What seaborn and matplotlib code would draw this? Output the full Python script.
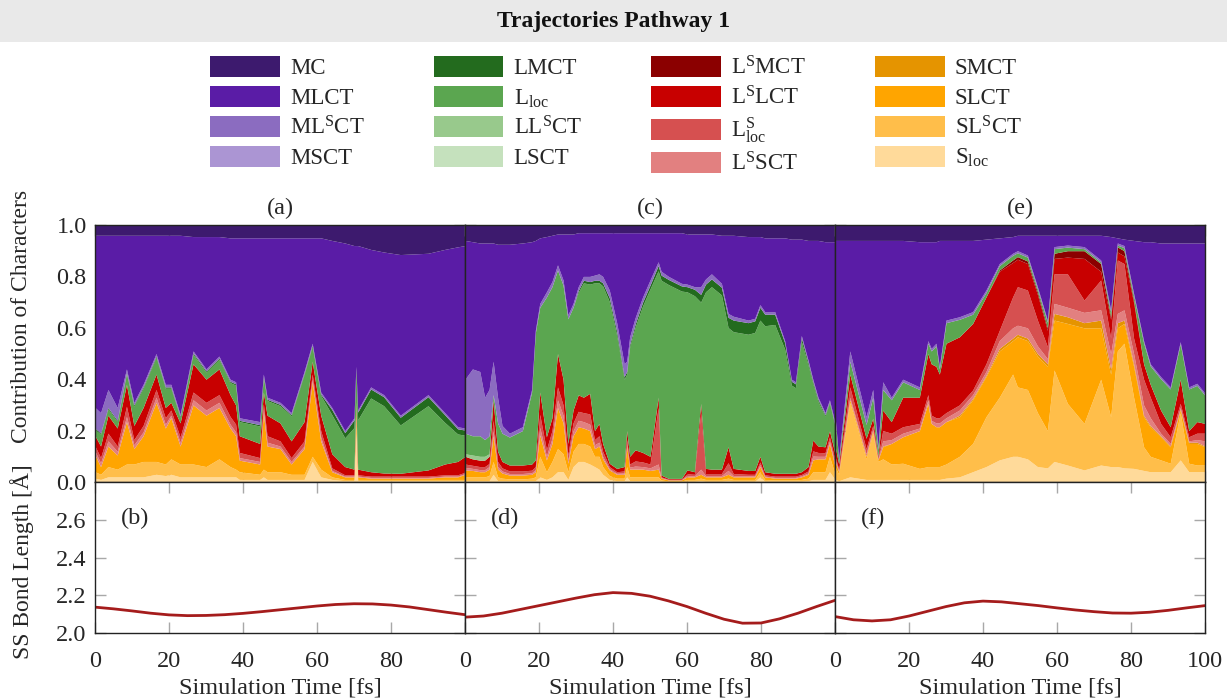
import numpy as np
import matplotlib
matplotlib.use("Agg")
import matplotlib.pyplot as plt
from matplotlib.patches import Patch, Rectangle
import seaborn as sns

# ---------------------------------------------------------------- characters
characters = ["MC", "MLCT", "MLSCT", "MSCT", "LMCT", "Lloc", "LLSCT", "LSCT",
              "LSMCT", "LSLCT", "LSloc", "LSSCT", "SMCT", "SLCT", "SLSCT", "Sloc"]
legend_labels = ["MC", "MLCT", r"ML$^{\mathregular{S}}$CT", "MSCT",
                 "LMCT", r"L$_{\mathregular{loc}}$", r"LL$^{\mathregular{S}}$CT", "LSCT",
                 r"L$^{\mathregular{S}}$MCT", r"L$^{\mathregular{S}}$LCT",
                 r"L$^{\mathregular{S}}_{\mathregular{loc}}$", r"L$^{\mathregular{S}}$SCT",
                 "SMCT", "SLCT", r"SL$^{\mathregular{S}}$CT", r"S$_{\mathregular{loc}}$"]
colors = ["#3d1a6e", "#5a1ca6", "#8b6cc0", "#ab95d3",
          "#236b1e", "#5ba650", "#98c98c", "#c5e1bd",
          "#8b0000", "#c80000", "#d65050", "#e28080",
          "#e59400", "#ffa500", "#ffbe4a", "#ffda9a"]

# ---------------------------------------------------------------- trajectory (a)
time_a = [0, 1.5, 3.5, 6, 8.5, 10.5, 13, 16.5, 19, 20.5,
          23, 26.5, 30, 33.5, 36.5, 38, 39, 44.5, 45.5, 46.5,
          50, 53, 56.5, 58.7, 61, 64, 67.5, 70, 70.5, 71,
          74.5, 78, 82.5, 90, 94.5, 98, 100]
mc_a = [.04, .04, .04, .04, .04, .04, .04, .04, .04, .04,
        .04, .045, .045, .045, .05, .05, .05, .05, .05, .05,
        .05, .05, .05, .05, .05, .06, .07, .08, .08, .08,
        .095, .105, .115, .11, .095, .085, .08]
mlsct_a = [.08, .08, .07, .05, .015, .01, .01, .01, .01, .01,
           .008, .008, .008, .008, .008, .008, .01, .012, .008, .008,
           .008, .008, .008, .008, .008, .008, .008, .008, .005, .008,
           .008, .008, .008, .008, .008, .008, .008]
lmct_a = [.005, .005, .005, .005, .005, .005, .005, .005, .005, .005,
          .005, .005, .005, .005, .005, .005, .005, .005, .005, .005,
          .005, .005, .005, .005, .005, .02, .02, .03, .02, .03,
          .035, .035, .03, .035, .03, .02, .02]
lloc_a = [.025, .045, .025, .025, .04, .075, .075, .065, .075, .055,
          .02, .037, .027, .037, .047, .077, .055, .068, .057, .057,
          .067, .097, .182, .057, .077, .152, .112, .162, .115, .192,
          .287, .262, .188, .25, .162, .107, .082]
lslct_a = [.04, .045, .07, .07, .085, .055, .07, .06, .04, .03,
           .055, .11, .09, .10, .085, .075, .065, .055, .045, .08,
           .07, .065, .075, .05, .06, .055, .032, .022, .015, .022,
           .017, .012, .011, .024, .042, .052, .062]
lsloc_a = [.02, .02, .03, .02, .04, .02, .025, .03, .025, .02,
           .02, .03, .03, .03, .03, .03, .02, .015, .02, .025,
           .02, .015, .02, .02, .025, .01, .005, .005, .01, .005,
           .005, .005, .005, .005, .005, .005, .005]
lssct_a = [.015, .015, .02, .015, .02, .015, .015, .02, .015, .01,
           .015, .02, .02, .02, .015, .015, .01, .01, .015, .015,
           .01, .01, .01, .01, .015, .005, .003, .003, .005, .003,
           .003, .003, .003, .003, .003, .003, .003]
slct_a = [.065, .03, .08, .055, .165, .06, .10, .23, .14, .16,
          .07, .23, .20, .20, .15, .13, .045, .04, .22, .10,
          .09, .04, .10, .29, .11, .02, .01, .01, .03, .01,
          .005, .005, .005, .005, .01, .01, .02]
slsct_a = [.025, .02, .04, .03, .05, .05, .06, .05, .045, .06,
           .05, .05, .04, .07, .04, .03, .03, .02, .03, .03,
           .03, .02, .02, .02, .03, .01, .005, .005, .06, .005,
           .005, .005, .005, .005, .005, .005, .005]
sloc_a = [.015, .01, .02, .02, .02, .02, .02, .03, .025, .03,
          .02, .02, .02, .02, .02, .02, .01, .01, .02, .01,
          .01, .01, .01, .08, .02, .01, .005, .005, .19, .005,
          .005, .005, .005, .005, .005, .005, .005]

# ---------------------------------------------------------------- trajectory (c)
time_c = [0, 2, 4, 5.3, 6.5, 7.6, 8.8, 10, 12, 15.5,
          18, 19, 20.2, 22, 23.5, 25, 26.5, 27.8, 29.2, 30.6,
          32, 33.7, 35, 36.2, 37.2, 39, 41, 43, 43.7, 44.5,
          46, 48, 50, 52.2, 53, 55, 58.5, 60, 62, 63.7,
          65, 66.6, 69.3, 71.1, 72.5, 76.5, 78.3, 79.7, 81, 83.7,
          86.4, 88.2, 89.3, 90.9, 92.7, 94, 95.4, 97.3, 98.5, 100]
mc_c = [.06, .065, .07, .07, .07, .07, .075, .075, .075, .07,
        .065, .06, .05, .045, .04, .035, .035, .035, .035, .03,
        .03, .03, .03, .03, .03, .03, .03, .03, .03, .03,
        .03, .03, .03, .03, .03, .03, .03, .035, .035, .035,
        .035, .035, .04, .04, .04, .045, .045, .045, .05, .05,
        .05, .055, .055, .055, .06, .06, .06, .065, .065, .065]
mlsct_c = [.21, .26, .25, .165, .18, .13, .10, .03, .015, .015,
           .01, .01, .015, .02, .02, .02, .02, .015, .015, .015,
           .015, .02, .02, .025, .025, .03, .035, .05, .04, .03,
           .025, .02, .02, .015, .015, .012, .01, .01, .01, .03,
           .02, .02, .015, .015, .015, .01, .01, .01, .01, .01,
           .008, .008, .008, .008, .008, .008, .008, .008, .008, .008]
lmct_c = [0, 0, 0, 0, 0, 0, 0, 0, 0, 0,
          0, 0, 0, 0, 0, 0, 0, 0, 0, .008,
          .01, .01, .01, .01, .012, .015, .015, .01, .01, .01,
          .012, .015, .015, .02, .02, .02, .02, .02, .025, .03,
          .03, .03, .03, .04, .045, .045, .045, .05, .045, .04,
          .025, .015, .015, .015, .01, .008, .008, .005, .005, .005]
lloc_c = [.08, .075, .08, .065, .07, .02, .11, .11, .109, .134,
          .28, .494, .33, .544, .51, .325, .366, .485, .40, .398,
          .445, .425, .575, .547, .613, .629, .517, .34, .22, .425,
          .478, .57, .651, .492, .758, .754, .729, .693, .685, .394,
          .687, .71, .678, .464, .532, .53, .537, .53, .568, .579,
          .483, .343, .333, .507, .397, .221, .174, .12, .107, .107]
llsct_c = [.01, .015, .015, .015, .01, 0, 0, 0, 0, 0,
           0, 0, 0, 0, 0, 0, 0, 0, 0, 0,
           0, 0, 0, 0, 0, 0, 0, 0, 0, 0,
           0, 0, 0, 0, 0, 0, 0, 0, 0, 0,
           0, 0, 0, 0, 0, 0, 0, 0, 0, 0,
           0, 0, 0, 0, 0, 0, 0, 0, 0, 0]
lslct_c = [.03, .025, .025, .025, .028, .08, .04, .025, .023, .023,
           .024, .026, .087, .05, .05, .13, .10, .045, .05, .064,
           .06, .08, .035, .048, .03, .013, .013, .017, .035, .03,
           .043, .037, .03, .04, .007, .003, .003, .015, .01, .036,
           .02, .017, .017, .062, .02, .015, .015, .022, .012, .011,
           .011, .011, .011, .011, .017, .042, .025, .023, .025, .025]
lsloc_c = [.013, .012, .012, .012, .012, .04, .02, .012, .01, .01,
           .01, .012, .05, .025, .03, .05, .04, .02, .03, .035,
           .035, .04, .02, .025, .02, .008, .006, .008, .015, .012,
           .02, .018, .015, .22, .003, .002, .002, .007, .006, .22,
           .008, .008, .008, .03, .008, .006, .006, .01, .005, .005,
           .005, .005, .005, .005, .008, .02, .015, .014, .015, .015]
lssct_c = [.01, .008, .008, .008, .01, .02, .01, .008, .006, .006,
           .006, .008, .03, .015, .02, .03, .03, .012, .02, .025,
           .025, .025, .015, .015, .01, .005, .004, .005, .01, .008,
           .012, .01, .01, .02, .002, .001, .001, .005, .004, .02,
           .005, .005, .005, .015, .005, .004, .004, .008, .003, .003,
           .003, .003, .003, .004, .005, .015, .01, .01, .01, .01]
slct_c = [.027, .025, .02, .02, .025, .10, .03, .02, .015, .015,
          .015, .02, .083, .046, .07, .16, .12, .033, .06, .065,
          .06, .06, .03, .04, .03, .022, .015, .015, .08, .03,
          .03, .03, .025, .03, .007, .004, .004, .01, .01, .015,
          .01, .01, .01, .015, .01, .01, .01, .02, .01, .007,
          .007, .007, .007, .01, .015, .046, .05, .05, .05, .03]
slsct_c = [.015, .015, .015, .015, .02, .05, .015, .01, .007, .007,
           .01, .015, .08, .03, .06, .09, .07, .03, .06, .07,
           .07, .07, .04, .05, .03, .015, .01, .01, .04, .015,
           .015, .015, .015, .015, .005, .002, .002, .007, .007, .01,
           .007, .007, .007, .01, .007, .007, .007, .02, .007, .005,
           .005, .005, .005, .007, .01, .03, .03, .03, .06, .02]
sloc_c = [.005, .005, .005, .005, .005, .03, .005, .005, .005, .005,
          .005, .005, .02, .01, .02, .04, .04, .01, .06, .08,
          .08, .07, .06, .05, .03, .01, .005, .005, .02, .005,
          .005, .005, .005, .005, .003, .002, .002, .003, .003, .005,
          .003, .003, .003, .005, .003, .003, .003, .02, .003, .003,
          .003, .003, .003, .003, .005, .01, .01, .01, .04, .01]

# ---------------------------------------------------------------- trajectory (e)
time_e = [0, 1, 4, 8.4, 10.2, 11.6, 12.9, 15.2, 18.3, 22.8,
          25.1, 26, 27.3, 28.2, 30, 33.6, 37.2, 40.8, 44.4, 48,
          49.3, 52, 54.7, 57.4, 59.2, 62.8, 67.3, 71.8, 74.5, 76.3,
          78.1, 80.7, 83.4, 85.2, 88, 90.6, 93.3, 95.6, 97.8, 100]
mc_e = [.06, .06, .06, .06, .06, .06, .06, .06, .06, .065,
        .065, .065, .065, .06, .06, .06, .06, .055, .05, .045,
        .04, .04, .04, .04, .04, .04, .04, .04, .045, .05,
        .055, .06, .065, .065, .07, .07, .07, .07, .07, .07]
mlsct_e = [.01, .005, .04, .03, .03, .01, .03, .01, .01, .01,
           .01, .01, .01, .01, .01, .01, .01, .01, .008, .008,
           .008, .008, .008, .008, .008, .008, .008, .008, .008, .008,
           .008, .008, .008, .008, .008, .008, .008, .008, .008, .008]
lloc_e = [.11, .015, .05, .054, .082, .027, .08, .085, .06, .03,
          .04, .05, .08, .02, .08, .068, .036, .017, .017, .018,
          .015, .015, .012, .022, .018, .014, .008, .006, .019, .007,
          .012, .018, .082, .072, .122, .147, .138, .162, .141, .109]
lsmct_e = [0, 0, 0, 0, 0, 0, 0, 0, 0, 0,
           0, 0, 0, 0, 0, 0, 0, 0, .005, .01,
           .01, .01, .01, .01, .02, .025, .03, .03, .01, .02,
           .02, .01, 0, 0, 0, 0, 0, 0, 0, 0]
lslct_e = [.04, .02, .05, .04, .028, .005, .08, .045, .115, .102,
           .16, .20, .20, .17, .27, .265, .259, .26, .23, .134,
           .107, .103, .10, .063, .06, .065, .162, .034, .073, .031,
           .03, .138, .06, .05, .052, .039, .094, .024, .045, .038]
lsloc_e = [.01, .005, .04, .02, .015, .005, .04, .025, .025, .018,
           .02, .02, .02, .02, .02, .02, .018, .03, .04, .12,
           .15, .147, .10, .047, .115, .13, .048, .116, .06, .208,
           .18, .06, .10, .08, .038, .026, .016, .016, .025, .03]
lssct_e = [.01, .005, .01, .01, .005, .004, .02, .015, .014, .01,
           .014, .012, .015, .015, .015, .02, .015, .015, .03, .04,
           .035, .04, .03, .02, .039, .037, .04, .04, .06, .036,
           .04, .04, .04, .03, .01, .01, .005, .005, .01, .02]
smct_e = [0, 0, 0, 0, 0, 0, .003, 0, 0, 0,
          0, 0, 0, 0, 0, .006, .005, .005, .01, .01,
          .01, .01, .01, .01, .026, .026, .02, .03, .02, .02,
          .013, .01, .006, .005, .004, .003, .005, .005, .005, .003]
slct_e = [.02, .01, .01, .01, .01, .006, .047, .08, .103, .147,
          .246, .168, .155, .155, .165, .154, .17, .156, .18, .13,
          .195, .19, .22, .25, .194, .311, .372, .20, .166, .09,
          .077, .12, .117, .115, .09, .064, .01, .077, .084, .071]
slsct_e = [.05, .025, .29, .08, .18, .07, .08, .06, .063, .043,
           .05, .05, .05, .05, .055, .08, .11, .194, .244, .32,
           .27, .27, .21, .145, .356, .24, .181, .334, .194, .45,
           .485, .277, .092, .06, .046, .033, .184, .033, .026, .026]
sloc_e = [.01, .005, .02, .01, .01, .01, .01, .01, .01, .01,
          .01, .01, .01, .01, .015, .02, .04, .06, .086, .10,
          .10, .09, .06, .055, .08, .066, .047, .066, .06, .06,
          .055, .053, .045, .04, .04, .04, .086, .04, .04, .04]

# ---------------------------------------------------------------- S-S bond length
bond_time = [0, 5, 10, 15, 20, 25, 30, 35, 40, 45, 50,
             55, 60, 65, 70, 75, 80, 85, 90, 95, 100]
bond_b = [2.137, 2.128, 2.117, 2.105, 2.096, 2.092, 2.093, 2.097, 2.104, 2.113, 2.123,
          2.133, 2.143, 2.151, 2.155, 2.154, 2.148, 2.138, 2.124, 2.110, 2.097]
bond_d = [2.084, 2.090, 2.105, 2.125, 2.145, 2.165, 2.185, 2.203, 2.214, 2.210, 2.195,
          2.170, 2.140, 2.105, 2.073, 2.052, 2.053, 2.075, 2.105, 2.140, 2.173]
bond_f = [2.087, 2.070, 2.064, 2.070, 2.090, 2.115, 2.140, 2.160, 2.169, 2.165, 2.155,
          2.145, 2.133, 2.122, 2.113, 2.106, 2.105, 2.110, 2.120, 2.133, 2.145]


def panel_table(time, **given):
    """Collect the character contributions of one trajectory; MLCT is the remainder to 1."""
    n = len(time)
    table = {}
    for name in characters:
        key = name.lower()
        table[name] = np.asarray(given[key], float) if key in given else np.zeros(n)
    others = sum(table[k] for k in characters if k != "MLCT")
    table["MLCT"] = np.clip(1.0 - others, 0, None)
    return table


panels = [
    (time_a, panel_table(time_a, mc=mc_a, mlsct=mlsct_a, lmct=lmct_a, lloc=lloc_a,
                         lslct=lslct_a, lsloc=lsloc_a, lssct=lssct_a, slct=slct_a,
                         slsct=slsct_a, sloc=sloc_a), bond_b, "(a)", "(b)"),
    (time_c, panel_table(time_c, mc=mc_c, mlsct=mlsct_c, lmct=lmct_c, lloc=lloc_c,
                         llsct=llsct_c, lslct=lslct_c, lsloc=lsloc_c, lssct=lssct_c,
                         slct=slct_c, slsct=slsct_c, sloc=sloc_c), bond_d, "(c)", "(d)"),
    (time_e, panel_table(time_e, mc=mc_e, mlsct=mlsct_e, lloc=lloc_e, lsmct=lsmct_e,
                         lslct=lslct_e, lsloc=lsloc_e, lssct=lssct_e, smct=smct_e,
                         slct=slct_e, slsct=slsct_e, sloc=sloc_e), bond_f, "(e)", "(f)"),
]

# ---------------------------------------------------------------- style
sns.set_theme(style="ticks")
plt.rcParams["font.family"] = ["Liberation Serif", "DejaVu Serif"]
plt.rcParams["mathtext.fontset"] = "custom"
plt.rcParams["mathtext.rm"] = "Liberation Serif"
plt.rcParams["mathtext.it"] = "Liberation Serif:italic"
plt.rcParams["mathtext.bf"] = "Liberation Serif:bold"
FS = 17.5

W, H = 1227, 698
fig = plt.figure(figsize=(W / 100, H / 100), dpi=100)

# header band
fig.add_artist(Rectangle((0, 1 - 42 / H), 1, 42 / H, transform=fig.transFigure,
                         facecolor="#e9e9e9", edgecolor="none", zorder=0))
fig.text(0.5, 1 - 22 / H, "Trajectories Pathway 1", ha="center", va="center",
         fontsize=17, fontweight="bold", color="#111111")

left, right = 95 / W, 1205 / W
pw = (right - left) / 3
top_y0, top_h = 1 - 482 / H, (482 - 225) / H
bot_y0, bot_h = 1 - 633 / H, (633 - 482) / H

stack_order = characters[::-1]  # Sloc at the bottom, MC on top
color_of = dict(zip(characters, colors))
tick_col = "#a8a8a8"

for i, (t, table, bond, lab_top, lab_bot) in enumerate(panels):
    ax = fig.add_axes([left + i * pw, top_y0, pw, top_h])
    bx = fig.add_axes([left + i * pw, bot_y0, pw, bot_h])

    ys = [table[k] for k in stack_order]
    cs = [color_of[k] for k in stack_order]
    ax.stackplot(t, *ys, colors=cs, linewidth=0)
    ax.set_xlim(0, 100)
    ax.set_ylim(0, 1)
    ax.set_xticks([0, 20, 40, 60, 80, 100])
    ax.set_xticklabels([])
    ax.set_yticks([0, .2, .4, .6, .8, 1.0])
    ax.set_title(lab_top, fontsize=FS, pad=8)

    sns.lineplot(x=bond_time, y=bond, ax=bx, color="#a51c1c", linewidth=2)
    bx.set_xlim(0, 100)
    bx.set_ylim(2.0, 2.8)
    bx.set_xticks([0, 20, 40, 60, 80, 100])
    bx.set_yticks([2.0, 2.2, 2.4, 2.6])
    bx.set_xlabel("Simulation Time [fs]", fontsize=FS, labelpad=4)
    bx.set_ylabel("")
    if i < 2:
        bx.set_xticklabels(["0", "20", "40", "60", "80", ""])
    else:
        bx.set_xticklabels(["0", "20", "40", "60", "80", "100"])
    bx.text(0.07, 0.76, lab_bot, transform=bx.transAxes, fontsize=FS,
            ha="left", va="center")

    for a in (ax, bx):
        a.tick_params(direction="in", top=True, right=True, length=8, width=1,
                      color=tick_col, labelsize=FS, pad=6)
        for s in a.spines.values():
            s.set_color("#222222")
            s.set_linewidth(1.0)
        a.set_facecolor("white")
    bx.tick_params(axis="x", pad=13)
    if i == 0:
        ax.set_yticklabels(["0.0", "0.2", "0.4", "0.6", "0.8", "1.0"])
        bx.set_yticklabels(["2.0", "2.2", "2.4", "2.6"])
    else:
        ax.set_yticklabels([])
        bx.set_yticklabels([])

fig.text(22 / W, 1 - 316 / H, "Contribution of Characters", rotation=90,
         ha="center", va="center", fontsize=17)
fig.text(22 / W, 1 - 562 / H, "SS Bond Length [Å]", rotation=90,
         ha="center", va="center", fontsize=17)

handles = [Patch(facecolor=c, edgecolor="none") for c in colors]
fig.legend(handles, legend_labels, ncol=4, loc="upper center",
           bbox_to_anchor=(0.502, 1 - 40 / H), frameon=False, fontsize=16.5,
           handlelength=3.05, handleheight=1.05, handletextpad=0.45,
           labelspacing=0.28, columnspacing=3.0, borderpad=0.2)

fig.savefig("out.png", dpi=100)
